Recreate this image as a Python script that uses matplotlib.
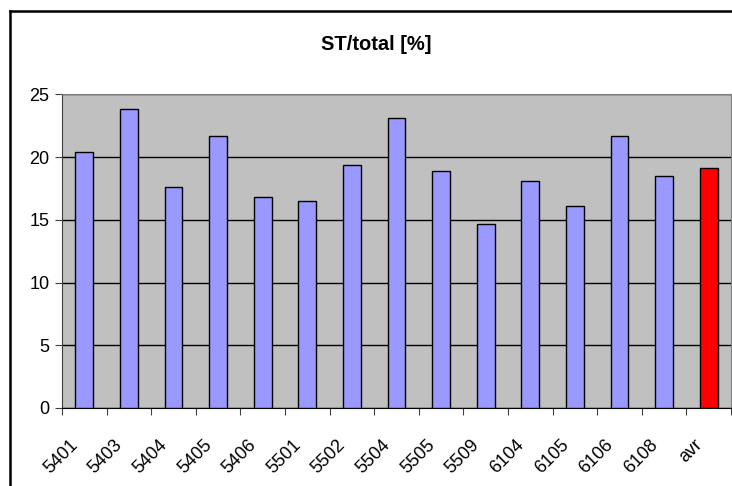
import matplotlib
matplotlib.use("Agg")
import matplotlib.pyplot as plt
import matplotlib.transforms as mtransforms
from matplotlib.lines import Line2D
import numpy as np

# data
labels = ["5401", "5403", "5404", "5405", "5406", "5501", "5502", "5504",
          "5505", "5509", "6104", "6105", "6106", "6108", "avr"]
values = [20.4, 23.8, 17.6, 21.7, 16.8, 16.5, 19.4, 23.1,
          18.9, 14.7, 18.1, 16.1, 21.7, 18.5, 19.1]
colors = ["#9999FF"] * 14 + ["#FF0000"]

plt.rcParams['font.family'] = ['Liberation Sans', 'DejaVu Sans']

fig = plt.figure(figsize=(7.32, 4.86), dpi=100)
ax = fig.add_axes([62/732, 1-408/486, (731-62)/732, (408-94.3)/486])

x = np.arange(len(labels))
ax.set_facecolor("#C0C0C0")
ax.set_axisbelow(True)
ax.yaxis.grid(True, color="black", lw=1)
ax.bar(x, values, width=0.4, color=colors, edgecolor="black", lw=1, zorder=3)

ax.set_xlim(-0.5, len(labels)-0.5)
ax.set_ylim(0, 25)
ax.set_yticks([0, 5, 10, 15, 20, 25])
ax.tick_params(axis='y', labelsize=13, direction='out', length=5, color='#404040', pad=4)

# ticks between categories, labels drawn at the centres
ax.set_xticks(np.arange(len(labels)+1) - 0.5)
ax.set_xticklabels([])
ax.tick_params(axis='x', which='major', direction='out', length=5, color='#404040')

trans = mtransforms.blended_transform_factory(ax.transData, ax.transAxes)
trans = trans + mtransforms.ScaledTranslation(-15/100, -28/100, fig.dpi_scale_trans)
for i, lab in enumerate(labels):
    ax.text(i, 0, lab, transform=trans, rotation=45, ha='right', va='top',
            rotation_mode='anchor', fontsize=13, clip_on=False)

for s in ['top', 'right']:
    ax.spines[s].set_color('#808080')
ax.spines['left'].set_color('#404040')
ax.spines['bottom'].set_color('black')

fig.text(376/732, 1-45/486, "ST/total [%]", ha='center', va='center',
         fontsize=14.5, fontweight='bold')

# outer chart frame
fig.add_artist(Line2D([10/732, 10/732], [0, 1-10.7/486], transform=fig.transFigure,
                      color='black', lw=1.8))
fig.add_artist(Line2D([10/732, 1], [1-10.7/486, 1-10.7/486], transform=fig.transFigure,
                      color='black', lw=1.8))

fig.savefig("out.png", dpi=100)
